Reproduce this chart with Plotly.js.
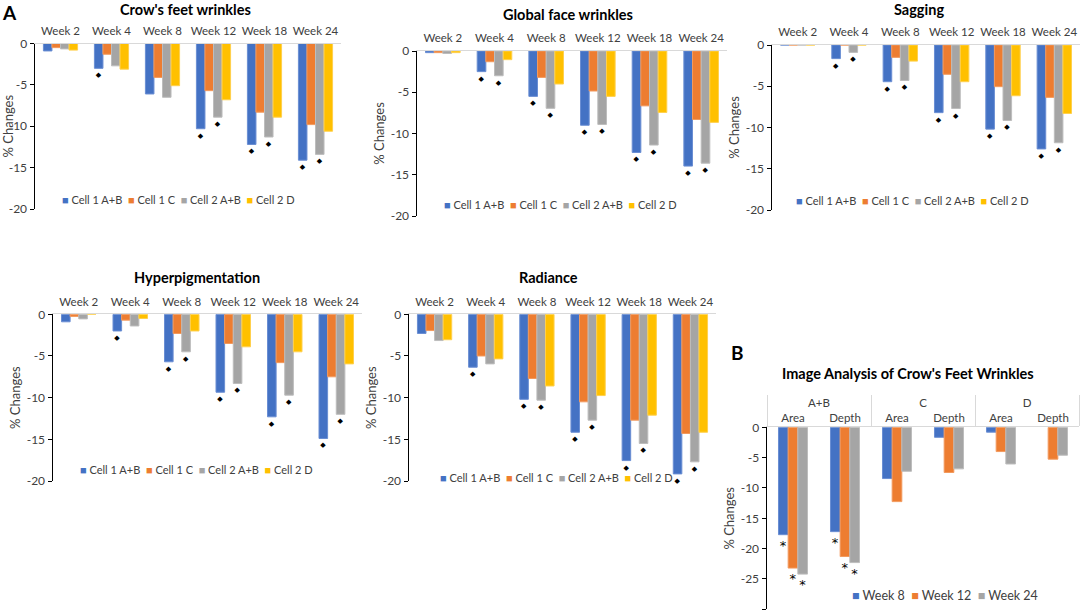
<!DOCTYPE html>
<html>
<head>
<meta charset="utf-8">
<script src="https://cdn.plot.ly/plotly-3.0.1.min.js"></script>
<style>html,body{margin:0;padding:0;background:#fff}#chart{width:1084px;height:616px}</style>
</head>
<body>
<div id="chart"></div>
<script>
// ---------- DATA ----------
const weeks = ['Week 2', 'Week 4', 'Week 8', 'Week 12', 'Week 18', 'Week 24'];
const cellNames = ['Cell 1 A+B', 'Cell 1 C', 'Cell 2 A+B', 'Cell 2 D'];
const cellColors = ['#4472C4', '#ED7D31', '#A5A5A5', '#FFC000'];
const cellLineColors = ['#6a8ed3', '#f29a5e', '#bdbdbd', '#ffd04d'];
const yTickVals = [-20, -15, -10, -5, 0];
const yTickText = ['-20', '-15', '-10', '-5', '0'];
const yTickValsB = [-30, -25, -20, -15, -10, -5, 0];
const yTickTextB = ['-30', '-25', '-20', '-15', '-10', '-5', '0'];

// Crow's feet wrinkles
const crowCell1AB = [-0.9, -3.0, -6.1, -10.3, -12.2, -14.1];
const crowCell1C  = [-0.5, -1.3, -4.1, -5.7, -8.3, -9.8];
const crowCell2AB = [-0.65, -2.7, -6.5, -8.9, -11.3, -13.4];
const crowCell2D  = [-0.8, -3.1, -5.1, -6.8, -8.9, -10.6];
const crowSig1AB  = [0, 1, 0, 1, 1, 1];
const crowSig2AB  = [0, 0, 0, 1, 1, 1];

// Global face wrinkles
const globCell1AB = [-0.2, -2.5, -5.5, -9.0, -12.3, -13.95];
const globCell1C  = [-0.2, -1.3, -3.2, -4.85, -6.65, -8.3];
const globCell2AB = [-0.3, -3.0, -6.95, -8.9, -11.4, -13.6];
const globCell2D  = [-0.2, -1.05, -4.0, -5.5, -7.45, -8.65];
const globSig1AB  = [0, 1, 1, 1, 1, 1];
const globSig2AB  = [0, 1, 1, 1, 1, 1];

// Sagging
const sagCell1AB = [0, -1.65, -4.45, -8.2, -10.2, -12.6];
const sagCell1C  = [0, 0, -1.5, -3.55, -5.05, -6.35];
const sagCell2AB = [0, -0.9, -4.3, -7.7, -9.15, -11.85];
const sagCell2D  = [0, 0, -1.95, -4.45, -6.15, -8.3];
const sagSig1AB  = [0, 1, 1, 1, 1, 1];
const sagSig2AB  = [0, 1, 1, 1, 1, 1];

// Hyperpigmentation
const hypCell1AB = [-0.9, -2.0, -5.7, -9.35, -12.3, -14.9];
const hypCell1C  = [-0.25, -0.7, -2.3, -3.5, -5.8, -7.5];
const hypCell2AB = [-0.55, -1.4, -4.5, -8.3, -9.7, -12.0];
const hypCell2D  = [0, -0.5, -2.0, -3.9, -4.5, -5.95];
const hypSig1AB  = [0, 1, 1, 1, 1, 1];
const hypSig2AB  = [0, 0, 1, 1, 1, 1];

// Radiance
const radCell1AB = [-2.3, -6.35, -10.2, -14.15, -17.55, -19.15];
const radCell1C  = [-1.95, -5.0, -7.7, -10.5, -12.7, -14.3];
const radCell2AB = [-3.15, -5.95, -10.3, -12.7, -15.5, -17.7];
const radCell2D  = [-3.05, -5.35, -8.6, -9.75, -12.1, -14.15];
const radSig1AB  = [0, 1, 1, 1, 1, 1];
const radSig2AB  = [0, 0, 1, 1, 1, 1];

// Image analysis of crow's feet wrinkles (panel B)
const imgGroups   = ['A+B', 'A+B', 'C', 'C', 'D', 'D'];
const imgMeasures = ['Area', 'Depth', 'Area', 'Depth', 'Area', 'Depth'];
const imgWeekNames = ['Week 8', 'Week 12', 'Week 24'];
const imgWeekColors = ['#4472C4', '#ED7D31', '#A5A5A5'];
const imgWeek8  = [-17.7, -17.2, -8.45, -1.65, -0.8, null];
const imgWeek12 = [-23.2, -21.3, -12.25, -7.45, -4.0, -5.25];
const imgWeek24 = [-24.2, -22.3, -7.25, -6.85, -6.05, -4.6];
const imgSig8   = [1, 1, 0, 0, 0, 0];
const imgSig12  = [1, 1, 0, 0, 0, 0];
const imgSig24  = [1, 1, 0, 0, 0, 0];

// ---------- LAYOUT / STYLE ----------
const W = 1084, H = 616;
const px = v => v / W;
const py = v => 1 - v / H;
const FONT = 'Lato, "Open Sans", sans-serif';
const TXT = '#404040';

const panels = [
  {title: "Crow's feet wrinkles", series: [crowCell1AB, crowCell1C, crowCell2AB, crowCell2D], sig: [crowSig1AB, null, crowSig2AB, null],
   xd: [35, 341], yd: [43.5, 209], tpos: [185, 9.5], lpos: [178, 199]},
  {title: 'Global face wrinkles', series: [globCell1AB, globCell1C, globCell2AB, globCell2D], sig: [globSig1AB, null, globSig2AB, null],
   xd: [417, 727], yd: [51, 216], tpos: [568, 15], lpos: [560, 204]},
  {title: 'Sagging', series: [sagCell1AB, sagCell1C, sagCell2AB, sagCell2D], sig: [sagSig1AB, null, sagSig2AB, null],
   xd: [772, 1080], yd: [45, 210], tpos: [919, 9.5], lpos: [912, 200]},
  {title: 'Hyperpigmentation', series: [hypCell1AB, hypCell1C, hypCell2AB, hypCell2D], sig: [hypSig1AB, null, hypSig2AB, null],
   xd: [53, 362], yd: [314.3, 481], tpos: [197, 277], lpos: [196, 469]},
  {title: 'Radiance', series: [radCell1AB, radCell1C, radCell2AB, radCell2D], sig: [radSig1AB, null, radSig2AB, null],
   xd: [409, 716], yd: [314.3, 481], tpos: [548, 277], lpos: [556, 477]}
];

const traces = [];
const layout = {
  width: W, height: H,
  margin: {l: 0, r: 0, t: 0, b: 0},
  paper_bgcolor: '#fff', plot_bgcolor: 'rgba(0,0,0,0)',
  font: {family: FONT, color: TXT},
  barmode: 'group', bargap: 0.33, bargroupgap: 0,
  showlegend: false,
  annotations: []
};

function legendText(names, colors) {
  return names.map((n, i) => '<span style="color:' + colors[i] + '">\u25A0</span>\u00a0' + n).join('\u00a0\u00a0');
}

function yAxisCfg(n, yd, tv, tt, rng) {
  return {
    domain: [py(yd[1]), py(yd[0])], anchor: 'x' + (n === 1 ? '' : n),
    range: rng, tickvals: tv, ticktext: tt,
    showline: true, linecolor: '#000', linewidth: 1.5,
    ticks: 'outside', ticklen: 4, tickcolor: '#000', tickwidth: 1,
    showgrid: false, zeroline: false, fixedrange: true,
    tickfont: {size: 12, color: TXT},
    title: {text: '% Changes', font: {size: 13, color: TXT}, standoff: 3}
  };
}

panels.forEach((p, k) => {
  const n = k + 1;
  const xa = 'x' + (n === 1 ? '' : n), ya = 'y' + (n === 1 ? '' : n);
  p.series.forEach((vals, s) => {
    const sig = p.sig[s];
    traces.push({
      type: 'bar', x: weeks, y: vals, name: cellNames[s], xaxis: xa, yaxis: ya,
      marker: {color: cellColors[s], line: {color: cellLineColors[s], width: 1}},
      text: sig ? sig.map(v => v ? '\u25C6' : '') : undefined,
      textposition: 'outside', constraintext: 'none', cliponaxis: false,
      textfont: {family: 'DejaVu Sans', size: 7, color: '#000'},
      hoverinfo: 'skip'
    });
  });
  layout['xaxis' + (n === 1 ? '' : n)] = {
    domain: [px(p.xd[0]), px(p.xd[1])], anchor: ya, side: 'top',
    type: 'category', range: [-0.5, 5.5],
    showline: true, linecolor: '#d9d9d9', linewidth: 1,
    ticks: '', showgrid: false, zeroline: false, fixedrange: true,
    tickfont: {size: 11.5, color: TXT}, ticklabelstandoff: 3
  };
  layout['yaxis' + (n === 1 ? '' : n)] = yAxisCfg(n, p.yd, yTickVals, yTickText, [-20, 0]);
  layout.annotations.push({
    xref: 'paper', yref: 'paper', x: px(p.tpos[0]), y: py(p.tpos[1]),
    xanchor: 'center', yanchor: 'middle', showarrow: false,
    text: '<b>' + p.title + '</b>', font: {size: 14.5, color: '#000'}
  });
  layout.annotations.push({
    xref: 'paper', yref: 'paper', x: px(p.lpos[0]), y: py(p.lpos[1]),
    xanchor: 'center', yanchor: 'middle', showarrow: false,
    text: legendText(cellNames, cellColors), font: {size: 11, color: TXT}
  });
});

// Panel B
const imgSeries = [imgWeek8, imgWeek12, imgWeek24];
const imgSigs = [imgSig8, imgSig12, imgSig24];
const bw = 0.186;
imgSeries.forEach((vals, s) => {
  traces.push({
    type: 'bar', x: [imgGroups, imgMeasures], y: vals, name: imgWeekNames[s],
    xaxis: 'x6', yaxis: 'y6', width: bw, offset: -1.5 * bw + s * bw,
    marker: {color: imgWeekColors[s], line: {color: cellLineColors[s], width: 1}},
    text: imgSigs[s].map(v => v ? '*' : ''),
    textposition: 'outside', constraintext: 'none', cliponaxis: false,
    textfont: {family: 'DejaVu Sans', size: 13, color: '#000'},
    hoverinfo: 'skip'
  });
});
layout.xaxis6 = {
  domain: [px(767), px(1079)], anchor: 'y6', side: 'top',
  type: 'multicategory', range: [-0.5, 5.5],
  showline: true, linecolor: '#d9d9d9', linewidth: 1,
  ticks: '', showgrid: false, zeroline: false, fixedrange: true,
  showdividers: true, dividercolor: '#d9d9d9', dividerwidth: 1,
  tickfont: {size: 11.5, color: TXT}
};
layout.yaxis6 = yAxisCfg(6, [427.3, 609.3], yTickValsB, yTickTextB, [-30, 0]);

layout.annotations.push(
  {xref: 'paper', yref: 'paper', x: px(908), y: py(374), xanchor: 'center', yanchor: 'middle', showarrow: false,
   text: "<b>Image Analysis of Crow's Feet Wrinkles</b>", font: {size: 14.5, color: '#000'}},
  {xref: 'paper', yref: 'paper', x: px(945), y: py(595), xanchor: 'center', yanchor: 'middle', showarrow: false,
   text: legendText(imgWeekNames, imgWeekColors), font: {size: 12.5, color: TXT}},
  {xref: 'paper', yref: 'paper', x: px(9), y: py(12.5), xanchor: 'center', yanchor: 'middle', showarrow: false,
   text: '<b>A</b>', font: {size: 19, color: '#000'}},
  {xref: 'paper', yref: 'paper', x: px(737), y: py(352), xanchor: 'center', yanchor: 'middle', showarrow: false,
   text: '<b>B</b>', font: {size: 19, color: '#000'}}
);

Plotly.newPlot('chart', traces, layout, {displayModeBar: false, staticPlot: true});
</script>
</body>
</html>
